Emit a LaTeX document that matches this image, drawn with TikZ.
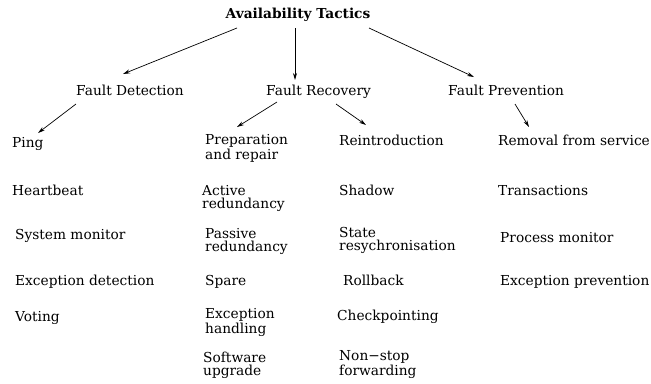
\documentclass[tikz,border=0pt]{standalone}
\usepackage{fontspec}
\setmainfont{DejaVu Serif}
\usetikzlibrary{arrows.meta,positioning,calc}

\begin{document}
\begin{tikzpicture}[x=1bp,y=-1bp,
  tac/.style={inner sep=0pt,anchor=base west,align=left,font=\fontsize{13.8}{13}\selectfont},
  lnk/.style={-{Stealth[length=7bp,width=4bp]},line width=0.7bp}]
  \useasboundingbox (0,0) rectangle (651,383);
  \node[tac,anchor=base,font=\fontsize{13.8}{13}\selectfont\bfseries] (top) at (298,18) {Availability Tactics};
  \node[tac] (det) at (76,95) {Fault Detection};
  \node[tac] (rec) at (266,95) {Fault Recovery};
  \node[tac] (prv) at (448,95) {Fault Prevention};
  % tactics in each column (two-line labels sit on their last line)
  \foreach \xx/\yy/\txt [count=\i] in {12/147/Ping, 12/195/Heartbeat, 15/239/System monitor,
      15/285/Exception detection, 15/321/Voting}
    \node[tac] (det\i) at (\xx,\yy) {\txt};
  \foreach \xx/\yy/\txt [count=\i] in {205/159/{Preparation\\and repair}, 202/208/{Active\\redundancy},
      205/251/{Passive\\redundancy}, 205/285/Spare, 205/333/{Exception\\handling}, 203/375/{Software\\upgrade}}
    \node[tac] (rca\i) at (\xx,\yy) {\txt};
  \foreach \xx/\yy/\txt [count=\i] in {339/145/Reintroduction, 339/195/Shadow, 339/250/{State\\resychronisation},
      343/285/Rollback, 337/320/Checkpointing, 339/375/{Non−stop\\forwarding}}
    \node[tac] (rcb\i) at (\xx,\yy) {\txt};
  \foreach \xx/\yy/\txt [count=\i] in {498/145/Removal from service, 498/195/Transactions,
      500/242/Process monitor, 500/285/Exception prevention}
    \node[tac] (prv\i) at (\xx,\yy) {\txt};
  % arrows
  \draw[lnk] ($(top.base)+(-61,10)$) -- ($(det.base west)+(47,-21)$);
  \draw[lnk] ($(top.base)+(-3,10)$) -- ($(rec.base west)+(29,-15)$);
  \draw[lnk] ($(top.base)+(71,10)$) -- ($(prv.base west)+(26,-18)$);
  \draw[lnk] ($(det.base west)+(0,9)$) -- ($(det1.base west)+(26,-14)$);
  \draw[lnk] ($(rec.base west)+(11,7)$) -- ($(rca1.base west)+(32,-32)$);
  \draw[lnk] ($(rec.base west)+(70,9)$) -- ($(rcb1.base west)+(27,-20)$);
  \draw[lnk] ($(prv.base west)+(67,9)$) -- ($(prv1.base west)+(31,-18)$);
\end{tikzpicture}
\end{document}
